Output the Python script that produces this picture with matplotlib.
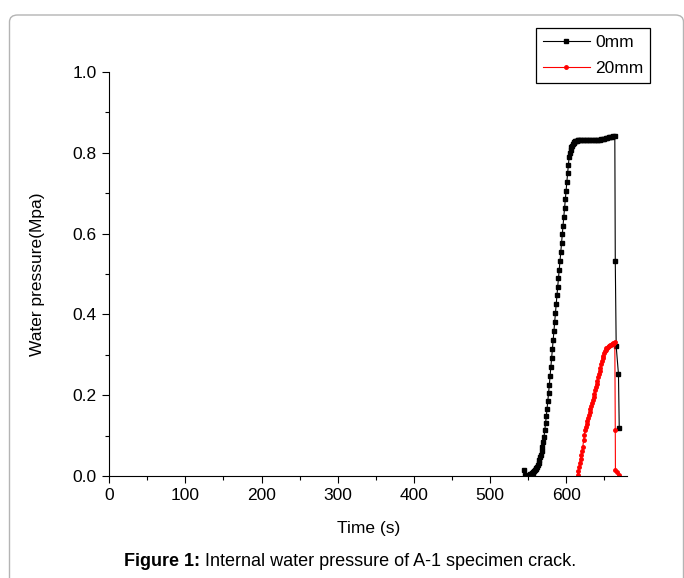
import numpy as np
import matplotlib
matplotlib.use("Agg")
import matplotlib.pyplot as plt
from matplotlib.patches import FancyBboxPatch

plt.rcParams['font.family'] = ['Liberation Sans', 'DejaVu Sans']

# 0mm sensor: time (s) and water pressure (MPa)
t_0mm = [545, 546, 547, 548, 549, 550, 551, 552, 553, 554,
         555, 556, 557, 558, 559, 560, 561, 562, 563, 564,
         565, 566, 567, 568, 569, 570, 571, 572, 573, 574,
         575, 576, 577, 578, 579, 580, 581, 582, 583, 584,
         585, 586, 587, 588, 589, 590, 591, 592, 593, 594,
         595, 596, 597, 598, 599, 600, 601, 602, 603, 604,
         605, 606, 607, 608, 609, 610, 611, 612, 613, 614,
         615, 616, 618, 620, 622, 624, 626, 628, 630, 632,
         634, 636, 638, 640, 642, 644, 646, 648, 650, 652,
         654, 656, 658, 660, 662, 664, 664.6, 665.8, 668.8, 669.8]
p_0mm = [0.015, 0.002, 0.000, 0.000, 0.001, 0.001, 0.002, 0.003, 0.004, 0.005,
         0.007, 0.008, 0.010, 0.012, 0.014, 0.017, 0.020, 0.023, 0.028, 0.033,
         0.039, 0.046, 0.053, 0.061, 0.071, 0.083, 0.097, 0.113, 0.130, 0.148,
         0.167, 0.186, 0.206, 0.226, 0.248, 0.270, 0.292, 0.314, 0.336, 0.358,
         0.381, 0.403, 0.425, 0.447, 0.469, 0.490, 0.511, 0.532, 0.554, 0.576,
         0.598, 0.620, 0.642, 0.663, 0.685, 0.706, 0.728, 0.749, 0.770, 0.789,
         0.800, 0.808, 0.814, 0.818, 0.821, 0.824, 0.826, 0.828, 0.829, 0.830,
         0.831, 0.831, 0.831, 0.831, 0.831, 0.831, 0.831, 0.831, 0.831, 0.831,
         0.831, 0.831, 0.831, 0.831, 0.832, 0.832, 0.833, 0.834, 0.835, 0.836,
         0.837, 0.838, 0.839, 0.840, 0.841, 0.842, 0.532, 0.321, 0.252, 0.119]

# 20mm sensor
t_20mm = [615, 616, 617, 618, 619, 620, 621, 622, 623, 624,
          625, 626, 627, 628, 629, 630, 631, 632, 633, 634,
          635, 636, 637, 638, 639, 640, 641, 642, 643, 644,
          645, 646, 647, 648, 649, 650, 651, 652, 653, 654,
          655, 656, 657, 658, 659, 660, 661, 662, 663, 664,
          664.6, 664.8, 667, 669.8]
p_20mm = [0.002, 0.012, 0.022, 0.033, 0.043, 0.053, 0.062, 0.072, 0.089, 0.102,
          0.114, 0.122, 0.129, 0.136, 0.143, 0.150, 0.158, 0.165, 0.173, 0.180,
          0.188, 0.196, 0.204, 0.212, 0.220, 0.228, 0.236, 0.244, 0.252, 0.260,
          0.268, 0.276, 0.284, 0.292, 0.298, 0.304, 0.309, 0.313, 0.316, 0.318,
          0.320, 0.321, 0.323, 0.324, 0.325, 0.326, 0.327, 0.328, 0.329, 0.331,
          0.114, 0.015, 0.010, 0.002]

W, H = 684, 578
fig = plt.figure(figsize=(W / 100, H / 100), dpi=100)
ax = fig.add_axes([109.3 / W, 1 - 476 / H, (627 - 109.3) / W, (476 - 72) / H])

# grey rounded frame around the whole figure (bottom edge cut off)
frame = FancyBboxPatch((9.5 / W, -0.2), (683.5 - 9.5) / W, 1.2 - 15 / H,
                       boxstyle="round,pad=0,rounding_size=0.012",
                       transform=fig.transFigure, facecolor='none',
                       edgecolor='#b4b4b4', linewidth=1.0, zorder=-5)
fig.patches.append(frame)

ax.plot(t_0mm, p_0mm, color='black', lw=0.8, marker='s', ms=2.8,
        mec='black', mfc='black', label='0mm')
ax.plot(t_20mm, p_20mm, color='red', lw=0.8, marker='o', ms=2.5,
        mec='red', mfc='red', label='20mm')

ax.set_xlim(0, 680)
ax.set_ylim(0, 1.0)
ax.set_xticks(np.arange(0, 601, 100))
ax.set_xticks(np.arange(50, 680, 100), minor=True)
ax.set_yticks(np.arange(0, 1.01, 0.2))
ax.set_yticks(np.arange(0.1, 1.0, 0.2), minor=True)
ax.yaxis.set_major_formatter(plt.FormatStrFormatter('%.1f'))

for s in ['top', 'right']:
    ax.spines[s].set_visible(False)
for s in ['left', 'bottom']:
    ax.spines[s].set_linewidth(0.8)
ax.tick_params(which='major', direction='out', length=5, width=0.8,
               labelsize=12.5, pad=4)
ax.tick_params(which='minor', direction='out', length=3, width=0.8)

ax.set_xlabel("Time (s)", fontsize=12.5)
ax.set_ylabel("Water pressure(Mpa)", fontsize=12.5)
ax.xaxis.set_label_coords(0.5, -0.112)
ax.yaxis.set_label_coords(-0.125, 0.5)

leg = ax.legend(loc='upper left', bbox_to_anchor=(536 / W, 1 - 28 / H),
                bbox_transform=fig.transFigure, borderaxespad=0,
                fancybox=False, edgecolor='black', framealpha=1,
                fontsize=12.5, handlelength=2.7, handletextpad=0.3,
                labelspacing=0.6, borderpad=0.4, numpoints=1)
leg.get_frame().set_linewidth(0.9)

# caption: bold "Figure 1:" followed by normal text, centred at x=350 px
r = fig.canvas.get_renderer()
t1 = fig.text(0, 1 - 562 / H, "Figure 1:", fontsize=13, fontweight='bold',
              va='center', ha='left')
t2 = fig.text(0, 1 - 562 / H, " Internal water pressure of A-1 specimen crack.",
              fontsize=13, va='center', ha='left')
w1 = t1.get_window_extent(r).width
w2 = t2.get_window_extent(r).width
x0 = 350 - (w1 + w2) / 2
t1.set_x(x0 / W)
t2.set_x((x0 + w1) / W)

fig.savefig("out.png", dpi=100)
